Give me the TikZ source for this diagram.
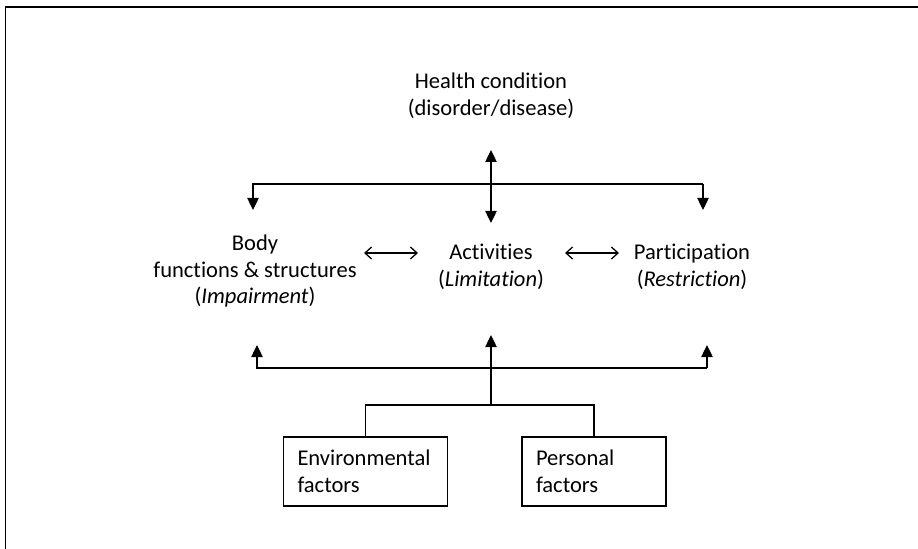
\documentclass[tikz,border=0pt]{standalone}
\usepackage{fontspec}
\setmainfont{Carlito}[Ligatures={NoCommon}]
\usetikzlibrary{arrows.meta,positioning}

\begin{document}
\begin{tikzpicture}[
		x=0.75pt, y=-0.75pt,
		line width=0.95pt,
		lbl/.style={align=center, inner sep=0pt, font=\fontsize{16.9}{20}\selectfont},
		factor/.style={draw, align=left, inner xsep=10.5pt, minimum height=51.75pt, font=\fontsize{16.9}{20}\selectfont},
		tip/.style={-{Triangle[width=8.5pt,length=9pt]}},
		tips/.style={{Triangle[width=8.5pt,length=9pt]}-{Triangle[width=8.5pt,length=9pt]}},
		link/.style={{Straight Barb[width=9pt,length=5pt]}-{Straight Barb[width=9pt,length=5pt]}},
		]
		\useasboundingbox (0,0) rectangle (918,549);
		%frame
		\draw[line width=0.9pt] (5.5,549) -- (5.5,7) -- (918,7);
		
		%labels
		\node[lbl] (health) at (491,96) {Health condition\\(disorder/disease)};
		\node[lbl] (body) at (255,271) {Body\\functions \& structures\\(\textit{Impairment})};
		\node[lbl] (act) at (491,267) {Activities\\(\textit{Limitation})};
		\node[lbl] (part) at (692,267) {Participation\\(\textit{Restriction})};
		
		%factors
		\node[factor, text width=102pt] (env) at (365.5,471.5) {Environmental\\factors};
		\node[factor, text width=87pt] (pers) at (594,471.5) {Personal\\factors};
		
		%junctions
		\coordinate (hT) at (491,150);
		\coordinate (hB) at (491,223);
		\coordinate (tL) at (253,184);
		\coordinate (tR) at (703,184);
		\coordinate (bodyIn) at (253,210);
		\coordinate (partIn) at (703,210);
		\coordinate (lB) at (257,368);
		\coordinate (rB) at (707,368);
		\coordinate (bodyOut) at (257,345);
		\coordinate (partOut) at (707,345);
		\coordinate (actOut) at (491,335);
		\coordinate (fJ) at (491,405);
		
		%top arrows
		\draw[tips] (hT) -- (hB);
		\draw[tip] (tR) -- (tL) -- (bodyIn);
		\draw[tip] (tR) -- (partIn);
		
		%middle arrows
		\draw[link] (364,253) coordinate (bE) -- (418,253) coordinate (aW);
		\draw[link] (565,253) coordinate (aE) -- (619,253) coordinate (pW);
		
		%bottom arrows
		\draw[tip] (rB) -- (lB) -- (bodyOut);
		\draw[tip] (rB) -- (partOut);
		\draw[tip] (fJ) -- (actOut);
		\draw (env.north) |- (fJ) -| (pers.north);
	\end{tikzpicture}
\end{document}
